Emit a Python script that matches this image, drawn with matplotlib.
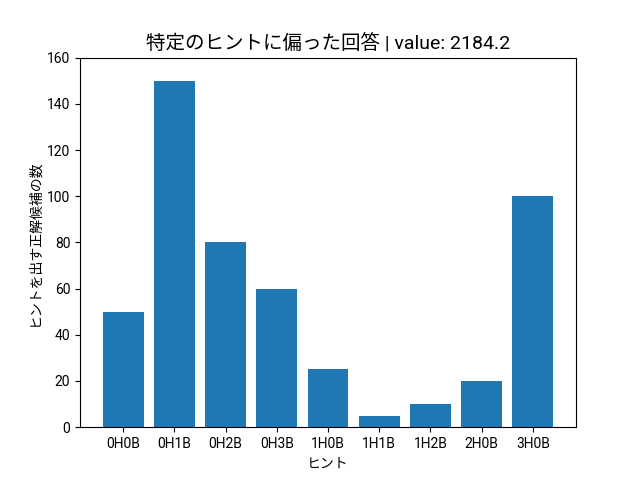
import matplotlib
matplotlib.use("Agg")
import matplotlib.pyplot as plt

plt.rcParams['font.family'] = ['Roboto', 'Noto Sans CJK JP', 'DejaVu Sans']

hints = ["0H0B", "0H1B", "0H2B", "0H3B", "1H0B", "1H1B", "1H2B", "2H0B", "3H0B"]
counts = [50, 150, 80, 60, 25, 5, 10, 20, 100]

fig, ax = plt.subplots(figsize=(6.4, 4.8), dpi=100)
ax.bar(hints, counts, color="#1f77b4")
ax.set_xlabel("ヒント")
ax.set_ylabel("ヒントを出す正解候補の数")
ax.set_title("特定のヒントに偏った回答 | value: 2184.2", fontsize=14)
ax.set_ylim(0, 160)

fig.savefig("out.png")
